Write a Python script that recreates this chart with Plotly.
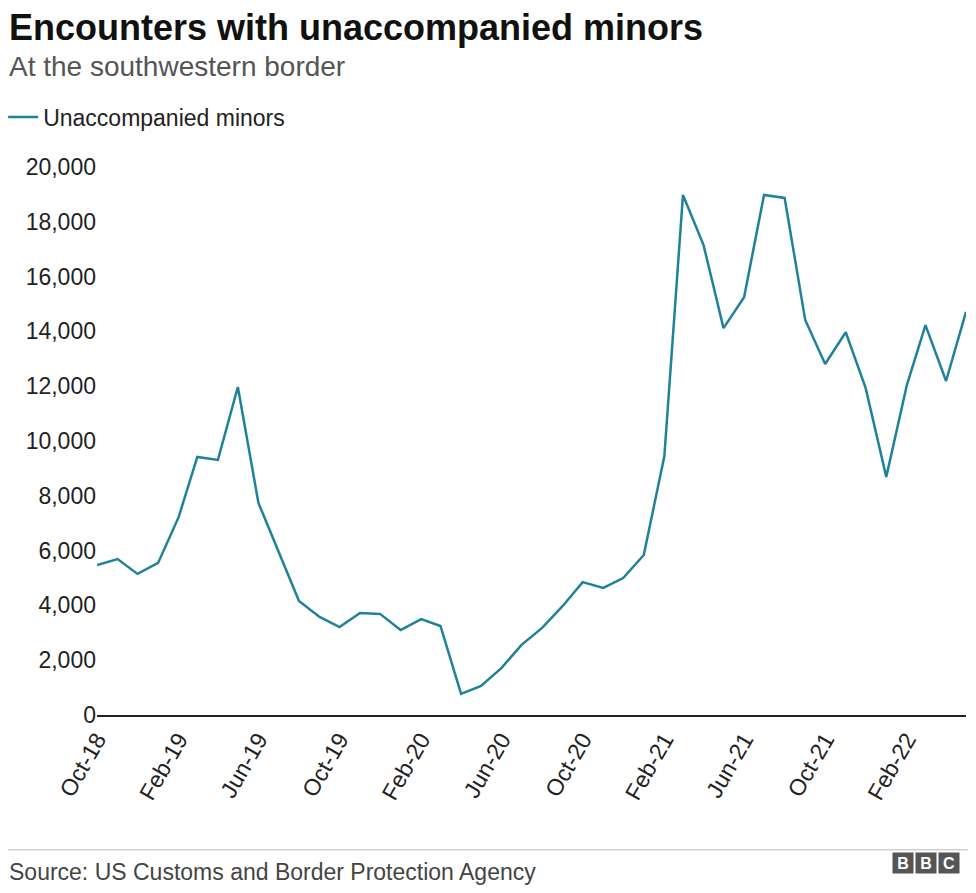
import pandas as pd
import plotly.graph_objects as go

months = pd.date_range("2018-10-01", periods=44, freq="MS")
minors = [5470, 5690, 5150, 5550, 7230, 9420, 9310, 11970, 7740, 5950,
          4160, 3580, 3210, 3720, 3690, 3100, 3500, 3250, 770, 1060,
          1720, 2560, 3180, 3980, 4850, 4640, 5000, 5840, 9450, 18980,
          17150, 14120, 15250, 18980, 18870, 14420, 12810, 13970, 11930, 8690,
          12040, 14230, 12190, 14710]
tick_dates = pd.date_range("2018-10-01", "2022-02-01", freq="4MS")

fig = go.Figure()
fig.add_trace(go.Scatter(x=months, y=minors, mode="lines", name="Unaccompanied minors",
                         line=dict(color="#1f8299", width=2.5), cliponaxis=False))

fnt = "Liberation Sans, Arial, sans-serif"
fig.update_layout(
    width=968, height=885, paper_bgcolor="white", plot_bgcolor="white",
    margin=dict(l=89, r=10, t=159, b=178, autoexpand=False),
    font=dict(family=fnt, size=24, color="#222"),
    showlegend=True,
    legend=dict(x=-0.108, y=1.091, xanchor="left", yanchor="middle", orientation="h",
                font=dict(size=23, color="#222")),
)
fig.add_annotation(text="<b>Encounters with unaccompanied minors</b>", xref="paper", yref="paper",
                   x=-0.103, y=1.296, xanchor="left", yanchor="top", showarrow=False,
                   font=dict(size=36, color="#111"))
fig.add_annotation(text="At the southwestern border", xref="paper", yref="paper", x=-0.103, y=1.215,
                   xanchor="left", yanchor="top", showarrow=False, font=dict(size=28, color="#555"))
fig.add_annotation(text="Source: US Customs and Border Protection Agency", xref="paper", yref="paper",
                   x=-0.103, y=-0.286, xanchor="left", yanchor="middle", showarrow=False,
                   font=dict(size=23, color="#444"))
fig.add_shape(type="line", xref="paper", yref="paper", x0=-0.11, x1=1.01, y0=-0.246, y1=-0.246,
              line=dict(color="#bbb", width=1))
for i, letter in enumerate("BBC"):
    fig.add_annotation(text="<b>" + letter + "</b>", xref="paper", yref="paper",
                       x=0.94 + i * 0.0265, y=-0.29, showarrow=False, width=20, height=20,
                       bgcolor="#555", borderpad=0, font=dict(size=16, color="white"))

fig.update_xaxes(tickvals=tick_dates, tickformat="%b-%y", tickangle=-60, showgrid=False,
                 showline=True, linecolor="#222", linewidth=2, ticks="", automargin=False,
                 range=[months[0], months[-1]], tickfont=dict(size=23, color="#222"))
fig.update_yaxes(range=[0, 20000], dtick=2000, tickformat=",", showgrid=False, automargin=False,
                 zeroline=False, showline=False, ticks="", tickfont=dict(size=23, color="#222"))

fig.write_html("out.html")
